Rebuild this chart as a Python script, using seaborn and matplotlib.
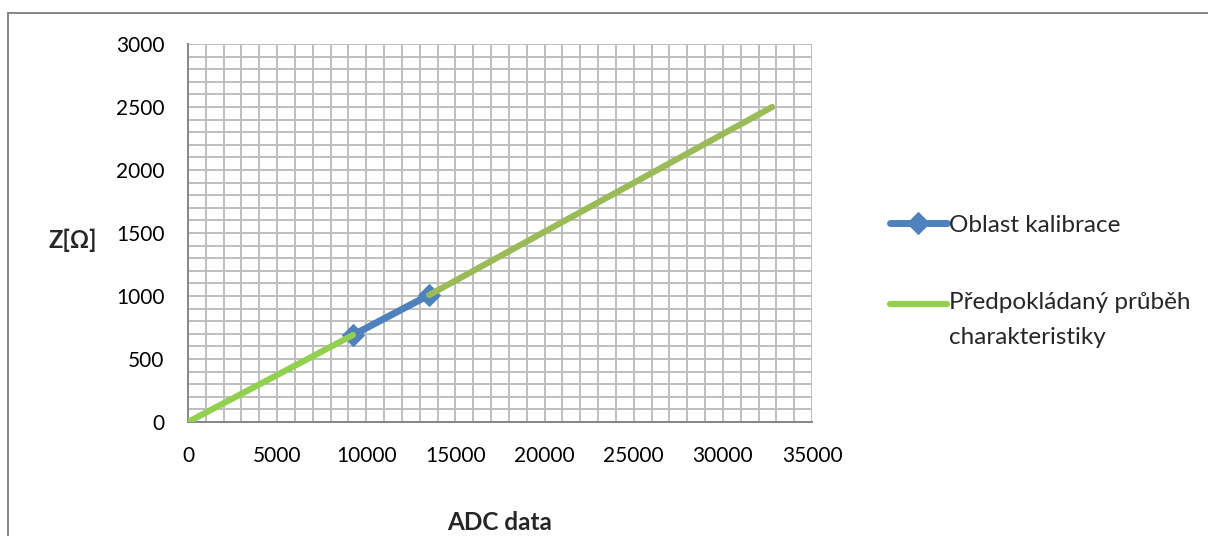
import matplotlib
matplotlib.use("Agg")
import matplotlib.pyplot as plt
from matplotlib.patches import Rectangle
from matplotlib.ticker import MultipleLocator
from matplotlib.legend_handler import HandlerLine2D
import seaborn as sns
import pandas as pd

# Measured calibration points
cal_adc = [9250, 13530]
cal_z = [690, 1008]

# Expected characteristic below the calibration region
pred_adc = [0, 9250]
pred_z = [0, 690]

# Expected characteristic above the calibration region, up to full scale
ext_adc = [13530, 32767]
ext_z = [1008, 2500]

label_cal = "Oblast kalibrace"
label_pred = "Předpokládaný průběh\ncharakteristiky"

BLUE = "#4F81BD"
GREEN = "#92D050"
OLIVE = "#9BBB59"
GRID = "#BEBEBE"
AXIS = "#868686"

sns.set_style("white")
plt.rcParams["font.family"] = ["Lato", "DejaVu Sans"]


class FirstLineHandler(HandlerLine2D):
    """Keep the legend line level with the first line of a two-line label."""

    def __init__(self, shift=0.0, **kw):
        super().__init__(**kw)
        self.shift = shift

    def create_artists(self, legend, orig_handle, xdescent, ydescent,
                       width, height, fontsize, trans):
        return super().create_artists(legend, orig_handle, xdescent,
                                      ydescent - self.shift, width, height,
                                      fontsize, trans)


fig = plt.figure(figsize=(12.08, 5.36), dpi=100)
W, H = 1208, 536
ax = fig.add_axes([188 / W, (H - 422) / H, 624 / W, 378 / H])

# Outer chart border
fig.patches.append(Rectangle((8 / W, -0.05), 1.2, (H - 13) / H + 0.05,
                             transform=fig.transFigure, fill=False,
                             edgecolor=AXIS, linewidth=1.4, zorder=0))

df_cal = pd.DataFrame({"adc": cal_adc, "z": cal_z})
df_pred = pd.DataFrame({"adc": pred_adc, "z": pred_z})
df_ext = pd.DataFrame({"adc": ext_adc, "z": ext_z})

sns.lineplot(data=df_cal, x="adc", y="z", ax=ax, color=BLUE, linewidth=5,
             marker="D", markersize=11, markeredgecolor=BLUE, label=label_cal,
             zorder=3)
sns.lineplot(data=df_pred, x="adc", y="z", ax=ax, color=GREEN, linewidth=4.5,
             label=label_pred, zorder=4)
sns.lineplot(data=df_ext, x="adc", y="z", ax=ax, color=OLIVE, linewidth=4.5,
             legend=False, zorder=5)

ax.set_xlim(0, 35000)
ax.set_ylim(0, 3000)
ax.xaxis.set_major_locator(MultipleLocator(5000))
ax.yaxis.set_major_locator(MultipleLocator(500))
ax.xaxis.set_minor_locator(MultipleLocator(1000))
ax.yaxis.set_minor_locator(MultipleLocator(100))
ax.grid(True, which="both", color=GRID, linewidth=1.4)
ax.set_axisbelow(True)

for side in ("top", "right"):
    ax.spines[side].set_visible(False)
for side in ("left", "bottom"):
    ax.spines[side].set_color(AXIS)
    ax.spines[side].set_linewidth(1.4)

ax.tick_params(axis="both", which="major", direction="out", length=5,
               width=1.4, color=AXIS, labelsize=15, labelcolor="black", pad=12)
ax.tick_params(axis="both", which="minor", length=0)

ax.set_xlabel("ADC data", fontsize=17.5, fontweight="bold", va="center")
ax.xaxis.set_label_coords(0.5, -0.267)
ax.set_ylabel("Z[Ω]", fontsize=17, fontweight="bold", rotation=0,
              ha="center", va="center")
ax.yaxis.set_label_coords(-0.184, 0.481)

handles, labels = ax.get_legend_handles_labels()
leg = ax.legend(handles, labels, loc="upper left",
                bbox_to_anchor=(880 / W, (H - 205) / H),
                bbox_transform=fig.transFigure, frameon=False, fontsize=17.5,
                handlelength=2.35, handletextpad=0.1, labelspacing=2.3,
                borderaxespad=0,
                handler_map={handles[1]: FirstLineHandler(shift=23.0)})
for t in leg.get_texts():
    t.set_linespacing(1.85)

fig.savefig("out.png", dpi=100)
